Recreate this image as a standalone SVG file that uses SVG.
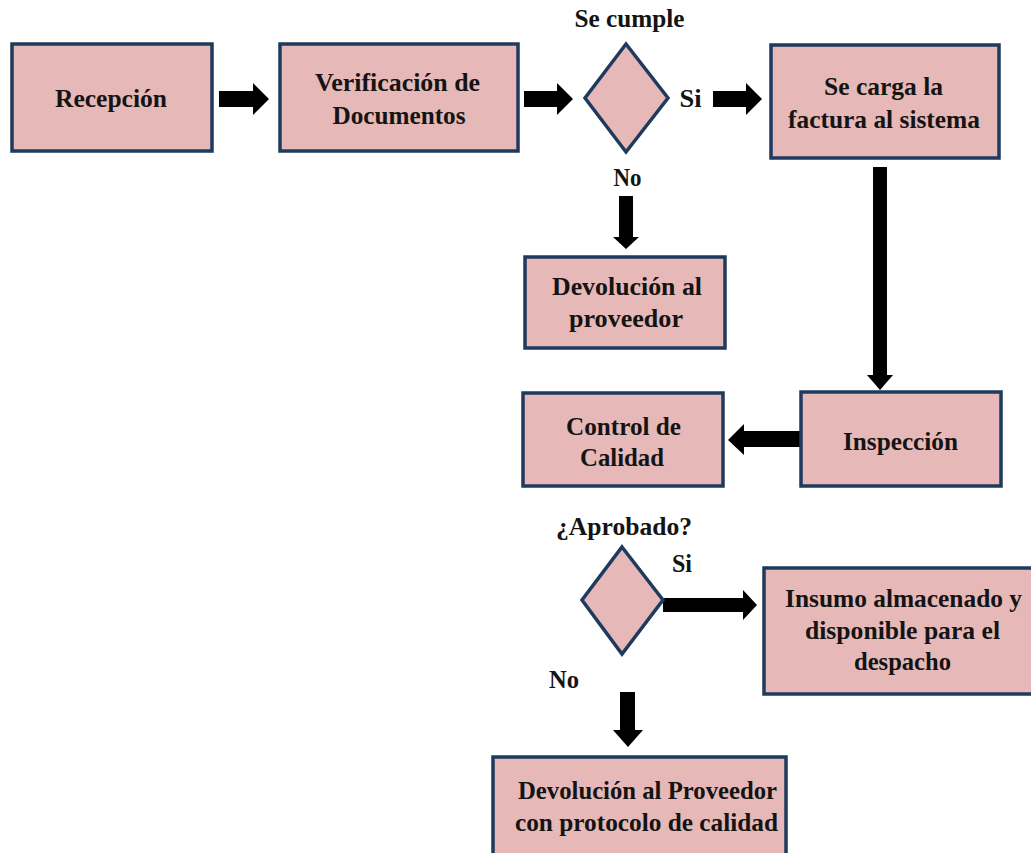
<svg xmlns="http://www.w3.org/2000/svg" width="1031" height="853" viewBox="0 0 1031 853">
<style>
.box{fill:#E6B8B7;stroke:#1F3A5F;stroke-width:3.5}
.t{font-family:"Liberation Serif","Times New Roman",serif;font-weight:bold;font-size:26px;fill:#141414;text-anchor:middle}
.arr{fill:#000}
</style>
<rect width="1031" height="853" fill="#fff"/>
<g id="connectors">
<polygon class="arr" points="219,91 253,91 253,83 269,99 253,115 253,107 219,107"/>
<polygon class="arr" points="524,91 557,91 557,83 573,99 557,115 557,107 524,107"/>
<polygon class="arr" points="713,91 746,91 746,83 762,99 746,115 746,107 713,107"/>
<polygon class="arr" points="619,196 633,196 633,237 639,237 626,249 613,237 619,237"/>
<polygon class="arr" points="873,167 887,167 887,375 893,375 880,390 867,375 873,375"/>
<polygon class="arr" points="801,431 744,431 744,424 728,440 744,455 744,447 801,447"/>
<polygon class="arr" points="663,598 743,598 743,590 757,605 743,620 743,612 663,612"/>
<polygon class="arr" points="620,692 635,692 635,730 643,730 628,747 613,730 620,730"/>
</g>
<g id="recepcion">
<rect class="box" x="12" y="44" width="200" height="107"/>
<text class="t" x="111" y="107" textLength="112" lengthAdjust="spacingAndGlyphs">Recepción</text>
</g>
<g id="verificacion">
<rect class="box" x="280" y="44" width="238" height="107"/>
<text class="t" x="397.5" y="91" textLength="165" lengthAdjust="spacingAndGlyphs">Verificación de</text>
<text class="t" x="399" y="124" textLength="133" lengthAdjust="spacingAndGlyphs">Documentos</text>
</g>
<g id="decision1">
<polygon class="box" points="626,44 668,98 626,152 585,98"/>
<text class="t" x="629.5" y="27" textLength="110" lengthAdjust="spacingAndGlyphs">Se cumple</text>
<text class="t" x="690.5" y="107" textLength="22" lengthAdjust="spacingAndGlyphs">Si</text>
<text class="t" x="627.5" y="186" textLength="28" lengthAdjust="spacingAndGlyphs">No</text>
</g>
<g id="carga">
<rect class="box" x="771" y="45" width="228" height="113"/>
<text class="t" x="883.5" y="95" textLength="119" lengthAdjust="spacingAndGlyphs">Se carga la</text>
<text class="t" x="884" y="128" textLength="192" lengthAdjust="spacingAndGlyphs">factura al sistema</text>
</g>
<g id="devolucion1">
<rect class="box" x="525" y="257" width="200" height="91"/>
<text class="t" x="627" y="295" textLength="150" lengthAdjust="spacingAndGlyphs">Devolución al</text>
<text class="t" x="626" y="327" textLength="114" lengthAdjust="spacingAndGlyphs">proveedor</text>
</g>
<g id="inspeccion">
<rect class="box" x="801" y="392" width="200" height="94"/>
<text class="t" x="900.5" y="450" textLength="115" lengthAdjust="spacingAndGlyphs">Inspección</text>
</g>
<g id="control">
<rect class="box" x="523" y="393" width="200" height="93"/>
<text class="t" x="623.5" y="435" textLength="115" lengthAdjust="spacingAndGlyphs">Control de</text>
<text class="t" x="622" y="466" textLength="84" lengthAdjust="spacingAndGlyphs">Calidad</text>
</g>
<g id="decision2">
<polygon class="box" points="622,547 663,600 622,654 582,600"/>
<text class="t" x="624" y="535" textLength="136" lengthAdjust="spacingAndGlyphs">¿Aprobado?</text>
<text class="t" x="682" y="572" textLength="20" lengthAdjust="spacingAndGlyphs">Si</text>
<text class="t" x="564" y="688" textLength="30" lengthAdjust="spacingAndGlyphs">No</text>
</g>
<g id="insumo">
<rect class="box" x="764" y="568" width="274" height="126"/>
<text class="t" x="903.5" y="607" textLength="237" lengthAdjust="spacingAndGlyphs">Insumo almacenado y</text>
<text class="t" x="902.5" y="639" textLength="195" lengthAdjust="spacingAndGlyphs">disponible para el</text>
<text class="t" x="902.5" y="670" textLength="97" lengthAdjust="spacingAndGlyphs">despacho</text>
</g>
<g id="devolucion2">
<rect class="box" x="493" y="757" width="293" height="102"/>
<text class="t" x="647.5" y="799" textLength="259" lengthAdjust="spacingAndGlyphs">Devolución al Proveedor</text>
<text class="t" x="646.5" y="831" textLength="263" lengthAdjust="spacingAndGlyphs">con protocolo de calidad</text>
</g>
</svg>
